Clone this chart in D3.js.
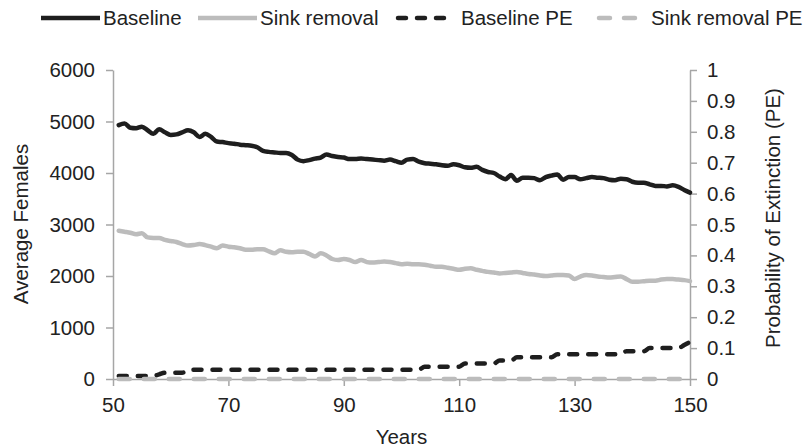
<!DOCTYPE html>
<html>
<head>
<meta http-equiv="Content-Type" content="text/html;charset=utf-8"/>
<script src="https://cdn.jsdelivr.net/npm/d3@7"></script>
<style type="text/css">
  body { margin: 0; background: #fff; }
  svg text { font-family: "Liberation Sans", Arial, sans-serif; fill: #222; }
</style>
</head>
<body>
<div id="chart"></div>
<script type="text/javascript">
  // data
  var years = [51,52,53,54,55,56,57,58,59,60,61,62,63,64,65,66,67,68,69,70,
    71,72,73,74,75,76,77,78,79,80,81,82,83,84,85,86,87,88,89,90,
    91,92,93,94,95,96,97,98,99,100,101,102,103,104,105,106,107,108,109,110,
    111,112,113,114,115,116,117,118,119,120,121,122,123,124,125,126,127,128,129,130,
    131,132,133,134,135,136,137,138,139,140,141,142,143,144,145,146,147,148,149,150];

  var baseline = [4930,4960,4880,4870,4900,4830,4760,4850,4790,4740,
    4750,4790,4830,4790,4700,4760,4700,4610,4600,4580,
    4570,4550,4540,4530,4500,4430,4410,4400,4390,4390,
    4350,4260,4230,4250,4280,4300,4360,4330,4310,4300,
    4270,4270,4280,4270,4260,4250,4240,4260,4230,4200,
    4260,4270,4220,4190,4180,4170,4150,4140,4170,4150,
    4110,4100,4120,4060,4020,4000,3930,3880,3960,3850,
    3910,3910,3900,3860,3920,3950,3970,3870,3920,3920,
    3880,3900,3920,3910,3900,3870,3860,3890,3880,3830,
    3810,3810,3780,3750,3750,3740,3760,3730,3670,3620];

  var sinkRemoval = [2880,2860,2840,2810,2830,2750,2740,2740,2700,2680,
    2660,2620,2590,2600,2620,2600,2570,2540,2590,2570,
    2560,2540,2510,2510,2520,2520,2480,2440,2500,2470,
    2460,2470,2470,2430,2380,2440,2400,2330,2310,2330,
    2310,2270,2310,2270,2260,2270,2280,2270,2250,2230,
    2240,2230,2230,2220,2200,2180,2180,2160,2140,2120,
    2140,2150,2120,2100,2080,2070,2050,2060,2070,2080,
    2060,2040,2030,2010,2000,2010,2020,2020,2010,1940,
    1990,2020,2010,1990,1980,1970,1980,1990,1940,1890,
    1890,1900,1910,1910,1930,1940,1940,1930,1920,1900];

  var baselinePE = [0.01,0.01,0.01,0.01,0.01,0.01,0.01,0.015,0.02,0.02,
    0.02,0.02,0.03,0.03,0.03,0.03,0.03,0.03,0.03,0.03,
    0.03,0.03,0.03,0.03,0.03,0.03,0.03,0.03,0.03,0.03,
    0.03,0.03,0.03,0.03,0.03,0.03,0.03,0.03,0.03,0.03,
    0.03,0.03,0.03,0.03,0.03,0.03,0.03,0.03,0.03,0.03,
    0.03,0.03,0.03,0.04,0.04,0.04,0.04,0.04,0.04,0.04,
    0.05,0.05,0.05,0.05,0.05,0.05,0.06,0.06,0.06,0.07,
    0.07,0.07,0.07,0.07,0.07,0.07,0.08,0.08,0.08,0.08,
    0.08,0.08,0.08,0.08,0.08,0.08,0.08,0.08,0.09,0.09,
    0.09,0.09,0.10,0.10,0.10,0.10,0.10,0.10,0.11,0.12];

  var sinkRemovalPE = [0,0,0,0,0,0,0,0,0,0, 0,0,0,0,0,0,0,0,0,0,
    0,0,0,0,0,0,0,0,0,0, 0,0,0,0,0,0,0,0,0,0,
    0,0,0,0,0,0,0,0,0,0, 0,0,0,0,0,0,0,0,0,0,
    0,0,0,0,0,0,0,0,0,0, 0,0,0,0,0,0,0,0,0,0,
    0,0,0,0,0,0,0,0,0,0, 0,0,0,0,0,0,0,0,0,0];

  var xTicks = [50,70,90,110,130,150];
  var leftTicks = [0,1000,2000,3000,4000,5000,6000];
  var rightTicks = [0,0.1,0.2,0.3,0.4,0.5,0.6,0.7,0.8,0.9,1];
  var seriesNames = ["Baseline","Sink removal","Baseline PE","Sink removal PE"];

  var W = 807, H = 448;
  var plotLeft = 113, plotRight = 690, plotTop = 70, plotBottom = 379;
  var axisColor = "#a6a6a6";
  var fontSize = '20.5px';

  var svg = d3.select('#chart').append('svg').attr('width', W).attr('height', H);

  var x = d3.scaleLinear().domain([50,150]).range([plotLeft,plotRight]);
  var yL = d3.scaleLinear().domain([0,6000]).range([plotBottom,plotTop]);
  var yR = d3.scaleLinear().domain([0,1]).range([plotBottom,plotTop]);

  function styleAxis(g) {
    g.selectAll('path.domain').attr('stroke', axisColor).attr('stroke-width', 1.5);
    g.selectAll('.tick line').attr('stroke', axisColor).attr('stroke-width', 1.5);
    g.selectAll('.tick text').attr('fill', '#222').style('font-size', fontSize);
  }

  svg.append('g').attr('transform', 'translate(' + plotLeft + ',0)')
    .call(d3.axisLeft(yL).tickValues(leftTicks).tickFormat(d3.format('d')).tickSize(7).tickSizeOuter(0).tickPadding(11))
    .call(styleAxis);

  svg.append('g').attr('transform', 'translate(' + plotRight + ',0)')
    .call(d3.axisRight(yR).tickValues(rightTicks).tickFormat(function(d) { return String(+d.toFixed(1)); })
      .tickSize(7).tickSizeOuter(0).tickPadding(10))
    .call(styleAxis);

  svg.append('g').attr('transform', 'translate(0,' + plotBottom + ')')
    .call(d3.axisBottom(x).tickValues(xTicks).tickSize(7).tickSizeOuter(0).tickPadding(11))
    .call(styleAxis);

  // axis titles
  svg.append('text').attr('x', (plotLeft + plotRight) / 2).attr('y', 444)
    .attr('text-anchor', 'middle').style('font-size', fontSize).text('Years');
  svg.append('text').attr('transform', 'translate(21,224) rotate(-90)')
    .attr('text-anchor', 'middle').attr('dy', '0.35em').style('font-size', fontSize).text('Average Females');
  svg.append('text').attr('transform', 'translate(773,218) rotate(-90)')
    .attr('text-anchor', 'middle').attr('dy', '0.35em').style('font-size', fontSize).text('Probability of Extinction (PE)');

  var series = [
    { name: seriesNames[0], values: baseline, y: yL, color: '#1e1e1e', dash: null },
    { name: seriesNames[1], values: sinkRemoval, y: yL, color: '#bcbcbc', dash: null },
    { name: seriesNames[2], values: baselinePE, y: yR, color: '#1e1e1e', dash: '8,11' },
    { name: seriesNames[3], values: sinkRemovalPE, y: yR, color: '#bcbcbc', dash: '11,14' }
  ];

  series.forEach(function(s) {
    var line = d3.line()
      .x(function(d, i) { return x(years[i]); })
      .y(function(d) { return s.y(d); })
      .curve(d3.curveMonotoneX);
    svg.append('path')
      .datum(s.values)
      .attr('d', line)
      .attr('fill', 'none')
      .attr('stroke', s.color)
      .attr('stroke-width', 4.5)
      .attr('stroke-linecap', 'round')
      .attr('stroke-linejoin', 'round')
      .attr('stroke-dasharray', s.dash);
  });

  // legend
  var legX = [41, 198, 396, 597];
  var legLen = [59, 59, 57, 52];
  var legTextX = [103, 260, 461, 651];
  var legY = 18;
  series.forEach(function(s, i) {
    svg.append('line')
      .attr('x1', legX[i] + (s.dash ? 2 : 0)).attr('x2', legX[i] + legLen[i])
      .attr('y1', legY).attr('y2', legY)
      .attr('stroke', s.color).attr('stroke-width', 4.5)
      .attr('stroke-linecap', s.dash ? 'round' : 'butt')
      .attr('stroke-dasharray', s.dash);
    svg.append('text').attr('x', legTextX[i]).attr('y', legY).attr('dy', '0.35em')
      .style('font-size', fontSize).text(s.name);
  });
</script>
</body>
</html>
